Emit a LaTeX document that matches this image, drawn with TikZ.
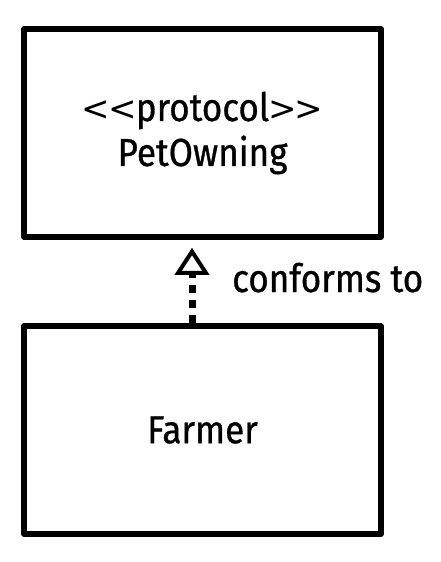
\documentclass[tikz,border=0pt]{standalone}
\usepackage{fontspec}
\setmainfont{Fira Sans}
\newfontfamily\hand{Fira Sans}[FakeBold=0.8, FakeStretch=0.9]
\newfontfamily\symb{DejaVu Sans}
\newcommand\bigL{{\symb\fontsize{34}{45}\selectfont<}}
\newcommand\bigG{{\symb\fontsize{34}{45}\selectfont>}}
\usetikzlibrary{arrows.meta}
\begin{document}
\begin{tikzpicture}[x=1pt,y=-1pt,
  classbox/.style={draw, line width=5.5pt, line join=round, minimum width=357pt, minimum height=208pt, inner sep=0pt, align=center, font=\hand\fontsize{39}{45}\selectfont},
  conforms/.style={line width=7pt, dash pattern=on 8pt off 7pt, -{Triangle[open, length=27pt, width=34pt, line width=4pt]}},
  lbl/.style={inner sep=0pt, font=\hand\fontsize{39}{45}\selectfont}]
\useasboundingbox (0,0) rectangle (440,562);
\node[classbox] (proto) at (202.5,133) {\bigL\kern-2pt\bigL\kern-1pt protocol\kern-1pt\bigG\kern-2pt\bigG\\PetOwning};
\node[classbox] (farmer) at (202.5,430) {Farmer};
\draw[conforms, shorten >=8pt] (farmer.north -| 192,0) -- (proto.south -| 192,0);
\node[lbl, anchor=base west] (label) at (232,292) {conforms to};
\end{tikzpicture}
\end{document}
